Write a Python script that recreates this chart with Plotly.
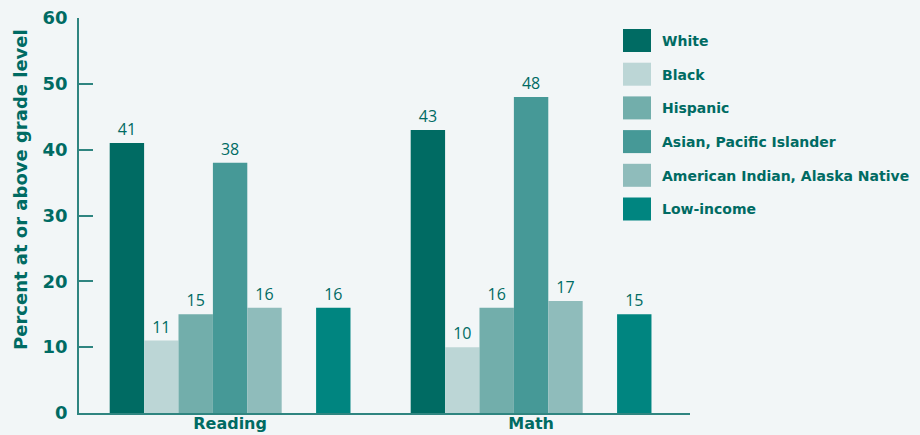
import plotly.graph_objects as go

subjects = ["Reading", "Math"]
groups = ["White", "Black", "Hispanic", "Asian, Pacific Islander",
          "American Indian, Alaska Native", "Low-income"]
values = {
    "White": [41, 43],
    "Black": [11, 10],
    "Hispanic": [15, 16],
    "Asian, Pacific Islander": [38, 48],
    "American Indian, Alaska Native": [16, 17],
    "Low-income": [16, 15],
}
colors = {
    "White": "#006b63",
    "Black": "#bcd6d6",
    "Hispanic": "#72aeab",
    "Asian, Pacific Islander": "#469997",
    "American Indian, Alaska Native": "#8fbcbb",
    "Low-income": "#008580",
}

TEXT = "#006b63"
AXIS = "#2f8580"
BG = "#f2f6f7"
BOLD = "DejaVu Sans"
LIGHT = "Open Sans"

L, R, T, B = 79, 230, 18, 22
PW, PH = 920 - L - R, 435 - T - B

fig = go.Figure()


def add_group_bar(name):
    fig.add_trace(go.Bar(
        x=subjects, y=values[name], name=name,
        marker=dict(color=colors[name], line=dict(width=0)),
        text=[str(v) for v in values[name]], textposition="outside",
        textfont=dict(family=LIGHT, size=16, color=TEXT),
        cliponaxis=False, showlegend=False, hoverinfo="x+y+name",
    ))


for g in groups[:-1]:
    add_group_bar(g)
# empty slot separating the low-income bar from the race/ethnicity bars
fig.add_trace(go.Bar(x=subjects, y=[None, None], showlegend=False,
                     hoverinfo="skip", marker=dict(color="rgba(0,0,0,0)")))
add_group_bar(groups[-1])


def px_x(px):
    return (px - L) / PW


def px_y(py):
    return 1 - (py - T) / PH


# legend: swatches and bold labels
for i, g in enumerate(groups):
    top = 29 + i * 33.7
    fig.add_shape(type="rect", xref="paper", yref="paper",
                  x0=px_x(623), x1=px_x(651), y0=px_y(top + 23), y1=px_y(top),
                  fillcolor=colors[g], line=dict(width=0), layer="above")
    fig.add_annotation(xref="paper", yref="paper",
                       x=px_x(660), y=px_y(top + 12),
                       xanchor="left", yanchor="middle", text=g, showarrow=False,
                       font=dict(family=BOLD, size=14, color=TEXT, weight="bold"))

# y-axis title
fig.add_annotation(xref="paper", yref="paper", x=px_x(20), y=px_y(190),
                   xanchor="center", yanchor="middle", textangle=-90,
                   text="Percent at or above grade level", showarrow=False,
                   font=dict(family=BOLD, size=18, color=TEXT, weight="bold"))

fig.update_layout(
    width=920, height=435,
    margin=dict(l=L, r=R, t=T, b=B),
    paper_bgcolor=BG, plot_bgcolor=BG,
    barmode="group", bargap=0.2, bargroupgap=0,
    showlegend=False,
    xaxis=dict(
        range=[-0.502, 1.528], showgrid=False, zeroline=False,
        showline=True, linecolor=AXIS, linewidth=1.5, ticks="",
        tickfont=dict(family=BOLD, size=16, color=TEXT, weight="bold"),
        ticklabelstandoff=-5, automargin=False,
    ),
    yaxis=dict(
        range=[0, 60], tickvals=[0, 10, 20, 30, 40, 50, 60],
        showgrid=False, zeroline=False, showline=True, linecolor=AXIS,
        linewidth=1.5, ticks="inside", ticklen=14, tickcolor=AXIS,
        tickwidth=1.5, ticklabelstandoff=6,
        tickfont=dict(family=BOLD, size=18, color=TEXT, weight="bold"),
        automargin=False,
    ),
)

fig.write_html("out.html")
